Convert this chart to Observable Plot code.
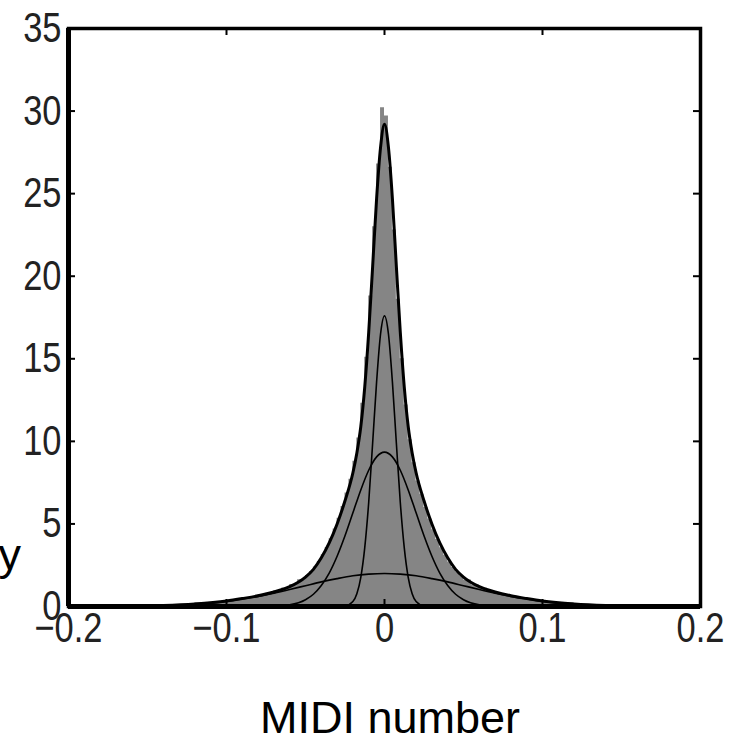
<!DOCTYPE html>
<html>
<head>
<meta charset="utf-8">
<script src="https://cdn.jsdelivr.net/npm/d3@7"></script>
<script src="https://cdn.jsdelivr.net/npm/@observablehq/plot@0.6"></script>
<style>
html, body { margin: 0; padding: 0; background: #fff; overflow: hidden; }
</style>
</head>
<body>
<div id="chart"></div>
<script>
// ---- tick values ----
const yTicks = [0, 5, 10, 15, 20, 25, 30, 35];
const xTicks = [-0.2, -0.1, 0, 0.1, 0.2];

// ---- histogram (bin edges and bin heights) ----
const histEdges = [-0.2,-0.18,-0.16,-0.14,-0.12,-0.1,
  -0.095,-0.09,-0.085,-0.08,-0.075,-0.07,-0.065,-0.06,-0.055,-0.05,
  -0.0475,-0.045,-0.0425,-0.04,-0.0375,-0.035,-0.0325,-0.03,-0.0275,-0.025,
  -0.0225,-0.02,-0.0175,-0.015,-0.0125,-0.01,-0.0075,-0.005,-0.0025,0,
  0.0025,0.005,0.0075,0.01,0.0125,0.015,0.0175,0.02,0.0225,0.025,
  0.0275,0.03,0.0325,0.035,0.0375,0.04,0.0425,0.045,0.0475,0.05,
  0.055,0.06,0.065,0.07,0.075,0.08,0.085,0.09,0.095,0.1,
  0.12,0.14,0.16,0.18,0.2];
const histValues = [0.01,0.02,0.04,0.10,0.23,
  0.37,0.42,0.53,0.60,0.72,0.80,0.97,1.12,1.33,1.62,
  1.88,2.12,2.39,2.72,3.13,3.58,4.10,4.70,5.35,6.06,
  6.87,7.7,8.8,10.2,12.3,15.1,18.8,23.0,26.8,30.2,
  29.7,26.6,22.8,18.6,15.0,12.2,10.1,8.7,7.6,6.8,
  6.0,5.3,4.65,4.05,3.55,3.1,2.7,2.36,2.1,1.86,
  1.6,1.3,1.12,0.95,0.79,0.71,0.6,0.52,0.42,0.37,
  0.22,0.10,0.04,0.02,0.01];

// ---- fitted mixture: total curve ----
const totalX = [-0.2,-0.16,-0.14,-0.12,-0.1,-0.09,-0.08,-0.07,-0.06,-0.05,-0.045,-0.04,-0.035,-0.03,-0.025,-0.02,-0.0175,-0.015,-0.0125,-0.01,-0.0075,-0.005,-0.0025,0,
  0.0025,0.005,0.0075,0.01,0.0125,0.015,0.0175,0.02,0.025,0.03,0.035,0.04,0.045,0.05,0.06,0.07,0.08,0.09,0.1,0.12,0.14,0.16,0.2];
const totalY = [0.0,0.03,0.06,0.15,0.33,0.48,0.65,0.88,1.2,1.78,2.25,2.95,3.85,5.0,6.4,8.1,9.3,10.9,13.3,16.6,20.6,24.7,27.8,29.2,
  27.8,24.7,20.6,16.6,13.3,10.9,9.3,8.1,6.4,5.0,3.85,2.95,2.25,1.78,1.2,0.88,0.65,0.48,0.33,0.15,0.06,0.03,0.0];

// ---- component 1 (narrow) ----
const comp1X = [-0.2,-0.03,-0.025,-0.02,-0.0175,-0.015,-0.0125,-0.01,-0.0075,-0.005,-0.0025,0,
  0.0025,0.005,0.0075,0.01,0.0125,0.015,0.0175,0.02,0.025,0.03,0.2];
const comp1Y = [0,0,0.03,0.3,0.77,1.77,3.57,6.3,9.9,13.6,16.5,17.6,
  16.5,13.6,9.9,6.3,3.57,1.77,0.77,0.3,0.03,0,0];

// ---- component 2 (medium) ----
const comp2X = [-0.2,-0.08,-0.07,-0.06,-0.05,-0.045,-0.04,-0.035,-0.03,-0.025,-0.02,-0.015,-0.01,-0.005,0,
  0.005,0.01,0.015,0.02,0.025,0.03,0.035,0.04,0.045,0.05,0.06,0.07,0.08,0.2];
const comp2Y = [0,0,0.02,0.1,0.41,0.74,1.27,2.02,3.04,4.28,5.67,7.06,8.25,9.06,9.35,
  9.06,8.25,7.06,5.67,4.28,3.04,2.02,1.27,0.74,0.41,0.1,0.02,0,0];

// ---- component 3 (broad) ----
const comp3X = [-0.2,-0.16,-0.14,-0.12,-0.1,-0.09,-0.08,-0.07,-0.06,-0.05,-0.04,-0.03,-0.02,-0.01,0,
  0.01,0.02,0.03,0.04,0.05,0.06,0.07,0.08,0.09,0.1,0.12,0.14,0.16,0.2];
const comp3Y = [0,0.02,0.05,0.14,0.31,0.45,0.61,0.81,1.03,1.26,1.49,1.69,1.86,1.96,2.0,
  1.96,1.86,1.69,1.49,1.26,1.03,0.81,0.61,0.45,0.31,0.14,0.05,0.02,0];

// ---- build tables ----
const histPts = histValues.map((v, i) => ({x: histEdges[i], y: v}));
histPts.push({x: histEdges[histEdges.length - 1], y: histValues[histValues.length - 1]});
const pts = (xs, ys) => xs.map((x, i) => ({x, y: ys[i]}));
const total = pts(totalX, totalY);
const comp1 = pts(comp1X, comp1Y);
const comp2 = pts(comp2X, comp2Y);
const comp3 = pts(comp3X, comp3Y);

const W = 740, H = 744, mL = 68, mR = 40, mT = 28, mB = 138;
const innerW = W - mL - mR, innerH = H - mT - mB;
const tickFont = "'Liberation Sans',Arial,Helvetica,sans-serif";
const labelFont = "'Liberation Sans',Arial,Helvetica,sans-serif";
const fmtX = d => d === 0 ? "0" : d3.format(".1f")(d);

const chart = Plot.plot({
  width: W, height: H,
  marginLeft: mL, marginRight: mR, marginTop: mT, marginBottom: mB,
  x: {domain: [-0.2, 0.2]},
  y: {domain: [0, 35]},
  style: {background: "#fff", color: "#000"},
  marks: [
    Plot.areaY(histPts, {x: "x", y: "y", curve: "step-after", fill: "#858585"}),
    Plot.line(comp3, {x: "x", y: "y", curve: "monotone-x", stroke: "#000", strokeWidth: 1.6}),
    Plot.line(comp2, {x: "x", y: "y", curve: "monotone-x", stroke: "#000", strokeWidth: 1.6}),
    Plot.line(comp1, {x: "x", y: "y", curve: "monotone-x", stroke: "#000", strokeWidth: 1.6}),
    Plot.line(total, {x: "x", y: "y", curve: "monotone-x", stroke: "#000", strokeWidth: 3}),
    Plot.tickY(yTicks, {y: d => d, insetRight: innerW - 7, stroke: "#000", strokeWidth: 2}),
    Plot.tickY(yTicks, {y: d => d, insetLeft: innerW - 7, stroke: "#000", strokeWidth: 2}),
    Plot.tickX(xTicks, {x: d => d, insetTop: innerH - 7, stroke: "#000", strokeWidth: 2}),
    Plot.tickX(xTicks, {x: d => d, insetBottom: innerH - 7, stroke: "#000", strokeWidth: 2}),
    Plot.frame({stroke: "#000", strokeWidth: 3.5}),
    Plot.ruleX([-0.2], {stroke: "#000", strokeWidth: 5}),
    Plot.ruleY([0], {stroke: "#000", strokeWidth: 5}),
    Plot.axisY(yTicks, {tickSize: 0, tickPadding: 7, fontSize: 42, fontFamily: tickFont, fill: "#222", label: null}),
    Plot.axisX(xTicks, {tickSize: 0, tickPadding: 6, fontSize: 42, fontFamily: tickFont, fill: "#222", label: null, tickFormat: fmtX})
  ]
});

const svg = d3.select(chart);
svg.append("text")
  .attr("x", 390).attr("y", 733)
  .attr("text-anchor", "middle")
  .attr("font-family", labelFont)
  .attr("font-size", 45)
  .attr("fill", "#000")
  .text("MIDI number");
svg.append("text")
  .attr("x", 21).attr("y", 570)
  .attr("text-anchor", "end")
  .attr("font-family", labelFont)
  .attr("font-size", 45)
  .attr("fill", "#000")
  .text("Density");

document.getElementById("chart").appendChild(chart);

// condense the tick labels horizontally, like the narrow face of the original
svg.selectAll("g[aria-label='y-axis tick label'] text, g[aria-label='x-axis tick label'] text")
  .each(function () {
    const len = this.getComputedTextLength();
    if (len > 0) {
      this.setAttribute("textLength", (len * 0.82).toFixed(1));
      this.setAttribute("lengthAdjust", "spacingAndGlyphs");
    }
  });
</script>
</body>
</html>
